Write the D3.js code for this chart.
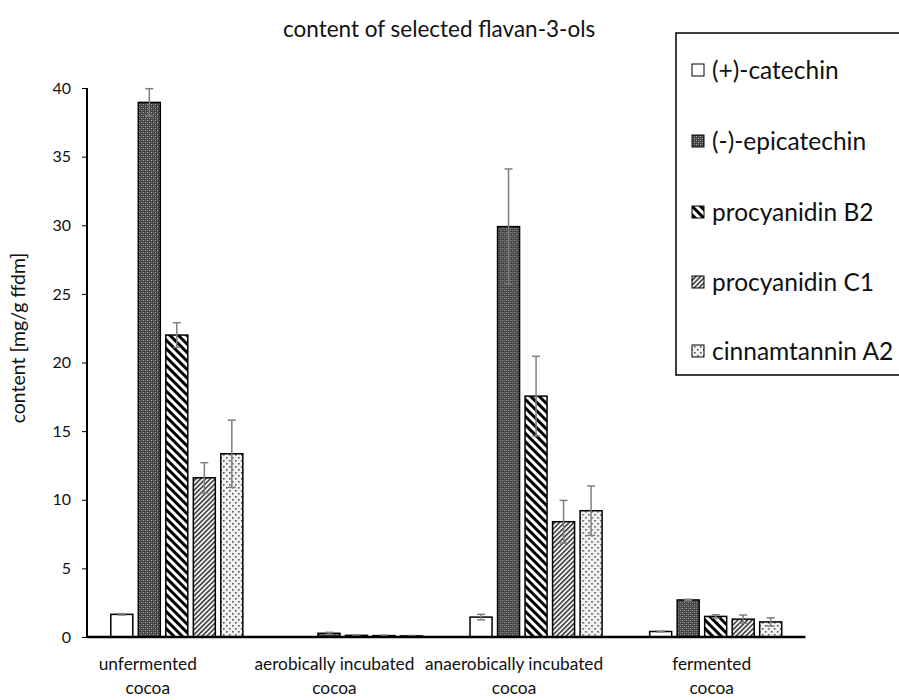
<!DOCTYPE html>
<html>
<head>
<meta charset="utf-8">
<script src="https://cdn.jsdelivr.net/npm/d3@7"></script>
<style>
  html, body { margin: 0; padding: 0; background: #fff; }
  svg { display: block; font-family: Lato, "Open Sans", sans-serif; }
</style>
</head>
<body>
<svg id="chart" width="899" height="700"></svg>
<script>
// Sample groups (x categories); two-line labels
const categories = [
  "unfermented cocoa",
  "aerobically incubated cocoa",
  "anaerobically incubated cocoa",
  "fermented cocoa"
];
const categoryLines = [
  ["unfermented", "cocoa"],
  ["aerobically incubated", "cocoa"],
  ["anaerobically incubated", "cocoa"],
  ["fermented", "cocoa"]
];

// Compounds (series)
const compounds = ["(+)-catechin", "(-)-epicatechin", "procyanidin B2", "procyanidin C1", "cinnamtannin A2"];

// Mean contents [mg/g ffdm] per category
const catechin      = [1.65, 0.00, 1.45, 0.40];
const epicatechin   = [38.95, 0.27, 29.90, 2.70];
const procyanidinB2 = [22.00, 0.12, 17.55, 1.50];
const procyanidinC1 = [11.60, 0.10, 8.40, 1.30];
const cinnamtanninA2 = [13.35, 0.08, 9.20, 1.10];

// Standard deviations
const catechinSd       = [0.05, 0.00, 0.20, 0.03];
const epicatechinSd    = [1.00, 0.07, 4.20, 0.05];
const procyanidinB2Sd  = [0.90, 0.03, 2.90, 0.12];
const procyanidinC1Sd  = [1.10, 0.03, 1.55, 0.30];
const cinnamtanninA2Sd = [2.45, 0.03, 1.80, 0.30];

const yTicks = [0, 5, 10, 15, 20, 25, 30, 35, 40];

const means = [catechin, epicatechin, procyanidinB2, procyanidinC1, cinnamtanninA2];
const sds = [catechinSd, epicatechinSd, procyanidinB2Sd, procyanidinC1Sd, cinnamtanninA2Sd];

const svg = d3.select("#chart");

// ---- fill patterns ----
const defs = svg.append("defs");

// dark speckled fill
const pEpi = defs.append("pattern").attr("id", "p-epi")
  .attr("patternUnits", "userSpaceOnUse").attr("width", 4).attr("height", 4);
pEpi.append("rect").attr("width", 4).attr("height", 4).attr("fill", "#454545");
pEpi.append("rect").attr("x", 0).attr("y", 0).attr("width", 1).attr("height", 1).attr("fill", "#a8a8a8");
pEpi.append("rect").attr("x", 2).attr("y", 2).attr("width", 1).attr("height", 1).attr("fill", "#a8a8a8");
pEpi.append("rect").attr("x", 2).attr("y", 0).attr("width", 1).attr("height", 1).attr("fill", "#747474");
pEpi.append("rect").attr("x", 0).attr("y", 2).attr("width", 1).attr("height", 1).attr("fill", "#747474");

// wide downward diagonal stripes
const pB2 = defs.append("pattern").attr("id", "p-b2")
  .attr("patternUnits", "userSpaceOnUse").attr("width", 6).attr("height", 6)
  .attr("patternTransform", "rotate(-45)");
pB2.append("rect").attr("width", 6).attr("height", 6).attr("fill", "#fff");
pB2.append("rect").attr("width", 3).attr("height", 6).attr("fill", "#000");

// narrow upward diagonal stripes
const pC1 = defs.append("pattern").attr("id", "p-c1")
  .attr("patternUnits", "userSpaceOnUse").attr("width", 3.4).attr("height", 3.4)
  .attr("patternTransform", "rotate(45)");
pC1.append("rect").attr("width", 3.4).attr("height", 3.4).attr("fill", "#f4f4f4");
pC1.append("rect").attr("width", 1.5).attr("height", 3.4).attr("fill", "#333");

// dotted fill
const pA2 = defs.append("pattern").attr("id", "p-a2")
  .attr("patternUnits", "userSpaceOnUse").attr("width", 6).attr("height", 6);
pA2.append("rect").attr("width", 6).attr("height", 6).attr("fill", "#f2f2f2");
pA2.append("rect").attr("x", 1).attr("y", 1).attr("width", 1.6).attr("height", 1.6).attr("fill", "#555");
pA2.append("rect").attr("x", 4).attr("y", 4).attr("width", 1.6).attr("height", 1.6).attr("fill", "#555");

const fills = ["#ffffff", "url(#p-epi)", "url(#p-b2)", "url(#p-c1)", "url(#p-a2)"];

// ---- scales ----
const plot = { left: 87, right: 805.5, top: 88, bottom: 637 };

const x0 = d3.scaleBand().domain(categories).range([plot.left, plot.right]).padding(0);
const x1 = d3.scaleBand().domain(compounds).range([0, x0.bandwidth()])
  .paddingInner(0.2).paddingOuter(0.865);
const y = d3.scaleLinear().domain([0, 40]).range([plot.bottom, plot.top]);

// ---- title ----
svg.append("text")
  .attr("x", 283).attr("y", 37)
  .attr("text-anchor", "start")
  .attr("font-size", 22.5).attr("fill", "#111")
  .text("content of selected flavan-3-ols");

// ---- bars ----
const groups = svg.append("g").selectAll("g")
  .data(categories)
  .join("g")
  .attr("transform", d => `translate(${x0(d)},0)`);

groups.selectAll("rect")
  .data((c, ci) => compounds.map((s, si) => ({ s, si, v: means[si][ci], e: sds[si][ci] })))
  .join("rect")
  .filter(d => d.v > 0)
  .attr("x", d => x1(d.s))
  .attr("y", d => y(d.v))
  .attr("width", x1.bandwidth())
  .attr("height", d => y(0) - y(d.v))
  .attr("fill", d => fills[d.si])
  .attr("stroke", "#000")
  .attr("stroke-width", 1.5);

// ---- error bars ----
const errData = (c, ci) => compounds.map((s, si) => ({ s, v: means[si][ci], e: sds[si][ci] }))
  .filter(d => d.v > 0);
const eg = groups.append("g").attr("stroke", "#7f7f7f").attr("stroke-width", 1.5);
eg.selectAll("line.v").data(errData).join("line").attr("class", "v")
  .attr("x1", d => x1(d.s) + x1.bandwidth() / 2).attr("x2", d => x1(d.s) + x1.bandwidth() / 2)
  .attr("y1", d => y(Math.max(0, d.v - d.e))).attr("y2", d => y(d.v + d.e));
eg.selectAll("line.t").data(errData).join("line").attr("class", "t")
  .attr("x1", d => x1(d.s) + x1.bandwidth() / 2 - 4).attr("x2", d => x1(d.s) + x1.bandwidth() / 2 + 4)
  .attr("y1", d => y(d.v + d.e)).attr("y2", d => y(d.v + d.e));
eg.selectAll("line.b").data(errData).join("line").attr("class", "b")
  .attr("x1", d => x1(d.s) + x1.bandwidth() / 2 - 4).attr("x2", d => x1(d.s) + x1.bandwidth() / 2 + 4)
  .attr("y1", d => y(Math.max(0, d.v - d.e))).attr("y2", d => y(Math.max(0, d.v - d.e)));

// ---- y axis ----
const yAxis = svg.append("g")
  .attr("transform", `translate(${plot.left},0)`)
  .call(d3.axisLeft(y).tickValues(yTicks).tickSize(5).tickPadding(11).tickFormat(d3.format("d")));
yAxis.select(".domain").attr("stroke", "#000").attr("stroke-width", 2)
  .attr("d", `M0,${plot.top}V${plot.bottom}`);
yAxis.selectAll(".tick line").attr("stroke", "#000").attr("stroke-width", 1);
yAxis.selectAll(".tick text").attr("font-size", 16).attr("fill", "#111")
  .attr("font-family", "Lato, sans-serif");

// ---- x axis (baseline + labels) ----
svg.append("line")
  .attr("x1", plot.left).attr("x2", plot.right)
  .attr("y1", y(0)).attr("y2", y(0))
  .attr("stroke", "#000").attr("stroke-width", 2.5);

// horizontal nudge of each category label relative to its band centre
const labelNudge = [-29, -22, -22, -4];
const xl = svg.append("g").attr("font-size", 17.3).attr("fill", "#111").attr("text-anchor", "middle");
categories.forEach((c, i) => {
  const t = xl.append("text")
    .attr("x", x0(c) + x0.bandwidth() / 2 + labelNudge[i])
    .attr("y", 670);
  categoryLines[i].forEach((line, k) => {
    t.append("tspan")
      .attr("x", x0(c) + x0.bandwidth() / 2 + labelNudge[i])
      .attr("dy", k === 0 ? 0 : 24)
      .text(line);
  });
});

// ---- y axis title ----
svg.append("text")
  .attr("transform", "translate(25,338) rotate(-90)")
  .attr("text-anchor", "middle")
  .attr("font-size", 19.5).attr("fill", "#111")
  .text("content [mg/g ffdm]");

// ---- legend ----
const legend = svg.append("g");
legend.append("rect")
  .attr("x", 676).attr("y", 33).attr("width", 240).attr("height", 342)
  .attr("fill", "#fff").attr("stroke", "#000").attr("stroke-width", 1.5);
const legendRows = [70, 141, 212, 282, 351];
compounds.forEach((s, i) => {
  legend.append("rect")
    .attr("x", 692).attr("y", legendRows[i] - 6).attr("width", 12).attr("height", 12)
    .attr("fill", fills[i]).attr("stroke", "#000").attr("stroke-width", 1);
  legend.append("text")
    .attr("x", 712).attr("y", legendRows[i])
    .attr("dy", "0.35em")
    .attr("font-size", 24.5).attr("fill", "#111")
    .text(s);
});
</script>
</body>
</html>
